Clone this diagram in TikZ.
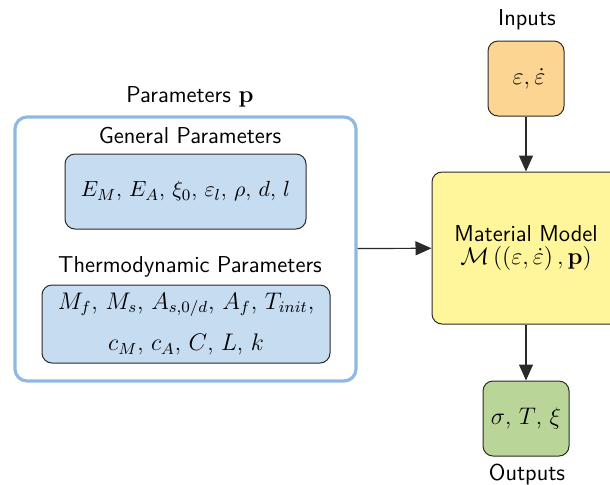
\documentclass[tikz,border=0pt]{standalone}
\usepackage{amsmath,amssymb}
\usepackage{xcolor}
\usepackage{tikz}
\usetikzlibrary{arrows.meta,positioning}
\definecolor{inbg}{HTML}{FDD593}
\definecolor{modbg}{HTML}{FFF59B}
\definecolor{outbg}{HTML}{B9D698}
\definecolor{parbg}{HTML}{C6DCF1}
\definecolor{parline}{HTML}{8FB9E4}
\definecolor{edge}{HTML}{2A2A2A}
\tikzset{
  box/.style={draw=edge, line width=0.5pt, rounded corners=5pt, align=center, inner sep=2pt,
    font=\fontsize{11.5}{13.8}\selectfont},
  group/.style={draw=parline, line width=1.6pt, rounded corners=6pt, fill=white},
  lab/.style={font=\sffamily\fontsize{11.5}{13.8}\selectfont, text=black},
  arr/.style={draw=edge, line width=0.6pt, -{Triangle[length=8pt,width=7pt]}},
}
\begin{document}
\begin{tikzpicture}[x=0.5pt,y=-0.5pt]
\useasboundingbox (0,0) rectangle (610,484);
\clip (0,0) rectangle (610,484);
% parameters group
\node[group, minimum width=170.5pt, minimum height=132pt] (par) at (185.5,249) {};
\node[lab] (parlab) at (190,97) {Parameters $\mathbf{p}$};
\node[lab] (genlab) at (190,136) {General Parameters};
\node[box, fill=parbg, minimum width=120.5pt, minimum height=37.5pt] (gen) at (185.5,191.5)
  {\fontsize{11}{13}\selectfont $E_M$, $E_A$, $\xi_0$, $\varepsilon_l$, $\rho$, $d$, $l$};
\node[lab] (thlab) at (190,267) {Thermodynamic Parameters};
\node[box, fill=parbg, minimum width=144pt, minimum height=39pt] (th) at (186,324)
  {\fontsize{11.8}{13.8}\selectfont $M_f$, $M_s$, $A_{s,0/d}$, $A_f$, $T_{init}$,\\[7pt] $c_M$, $c_A$, $C$, $L$, $k$};
% model chain
\node[lab] (inlab) at (527,20) {Inputs};
\node[box, fill=inbg, minimum width=38pt, minimum height=37.5pt] (in) at (526,78.5)
  {\hspace{3pt}$\varepsilon, \dot{\varepsilon}$};
\node[box, fill=modbg, minimum width=94pt, minimum height=76pt] (mod) at (526,248)
  {\sffamily Material Model\\[-2pt] $\mathcal{M}\left(\left(\varepsilon,\dot{\varepsilon}\right),\mathbf{p}\right)$};
\node[box, fill=outbg, minimum width=43pt, minimum height=37.5pt] (out) at (526,418.5)
  {$\sigma$, $T$, $\xi$};
\node[lab] (outlab) at (527,474) {Outputs};
% connectors
\draw[arr] (in) -- (mod);
\draw[arr] (mod) -- (out);
\draw[arr] (par) -- (mod);
\end{tikzpicture}
\end{document}
